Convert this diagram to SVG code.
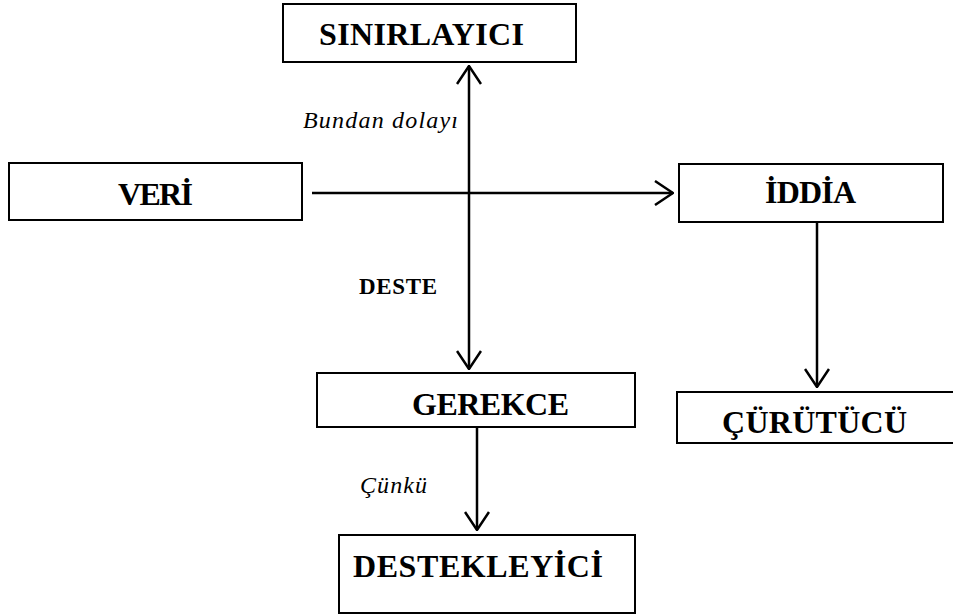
<svg xmlns="http://www.w3.org/2000/svg" width="953" height="615" viewBox="0 0 953 615">
<style>
.box{fill:#fff;stroke:#000;stroke-width:2}
.t{font-family:'Liberation Serif','Times New Roman',Times,serif;font-weight:700;font-size:32px;fill:#000}
.lbl{font-family:'Liberation Serif','Times New Roman',Times,serif;font-style:italic;font-size:24px;fill:#000}
.lb{font-family:'Liberation Serif','Times New Roman',Times,serif;font-weight:700;font-size:23px;fill:#000}
.c{stroke:#000;stroke-width:2.5;fill:none}
</style>
<defs>
<marker id="ah" viewBox="0 0 20 26" refX="19" refY="13" markerWidth="20" markerHeight="26" markerUnits="userSpaceOnUse" orient="auto-start-reverse">
<path d="M1,1 L19,13 L1,25" fill="none" stroke="#000" stroke-width="2.5"/>
</marker>
</defs>
<g id="connectors">
<line class="c" x1="469" y1="66" x2="469" y2="369" marker-start="url(#ah)" marker-end="url(#ah)"/>
<line class="c" x1="312" y1="193" x2="673" y2="193" marker-end="url(#ah)"/>
<line class="c" x1="817" y1="222" x2="817" y2="387" marker-end="url(#ah)"/>
<line class="c" x1="477" y1="427" x2="477" y2="530" marker-end="url(#ah)"/>
<text class="lbl" x="303" y="128" textLength="155">Bundan dolayı</text>
<text class="lb" x="359" y="294" textLength="78">DESTE</text>
<text class="lbl" x="360" y="493" textLength="67">Çünkü</text>
</g>
<g id="sinirlayici">
<rect class="box" x="283" y="4" width="293" height="58"/>
<text class="t" x="319" y="45" textLength="205">SINIRLAYICI</text>
</g>
<g id="veri">
<rect class="box" x="9" y="163" width="293" height="57"/>
<text class="t" x="118" y="205" textLength="75">VERİ</text>
</g>
<g id="iddia">
<rect class="box" x="679" y="164" width="264" height="58"/>
<text class="t" x="765" y="203" textLength="91">İDDİA</text>
</g>
<g id="gerekce">
<rect class="box" x="317" y="373" width="318" height="54"/>
<text class="t" x="412" y="415" textLength="157">GEREKCE</text>
</g>
<g id="curutucu">
<rect class="box" x="677" y="392" width="290" height="51"/>
<text class="t" x="722" y="433" textLength="185">ÇÜRÜTÜCÜ</text>
</g>
<g id="destekleyici">
<rect class="box" x="339" y="535" width="296" height="78"/>
<text class="t" x="353" y="577" textLength="250">DESTEKLEYİCİ</text>
</g>
</svg>
